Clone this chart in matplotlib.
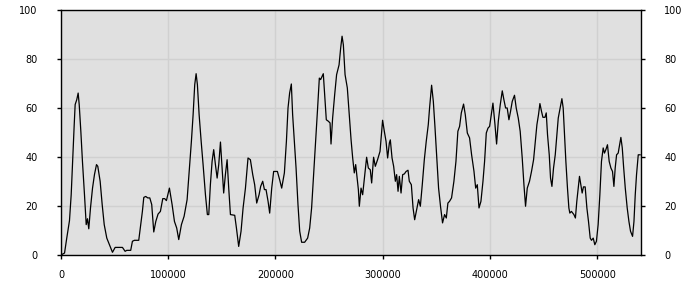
import matplotlib
matplotlib.use('Agg')
import matplotlib.pyplot as plt

# 读图得到的点 (x, 值)
xs = [0, 3300, 5400, 7900, 9500, 10700, 12300, 13200, 14700, 16000, 17000, 18500,
      20000, 21900, 23500, 24700, 25900, 27500, 29400, 31200, 33100, 34300, 36500,
      38400, 40300, 42700, 45800, 48000, 50500, 57300, 59800, 61300, 65000, 66600,
      68500, 72500, 74400, 75900, 77200, 79000, 80900, 82800, 84600, 86500, 88400,
      90500, 92700, 94900, 96700, 98300, 101100, 103600, 105800, 107900, 109800,
      112300, 114800, 117600, 119800, 121600, 123200, 124700, 126000, 127200, 128800,
      130700, 132500, 134700, 136500, 137800, 139300, 140900, 142400, 144000, 145600,
      147100, 148700, 150200, 151700, 153300, 154900, 156400, 158000, 162000, 163600,
      165700, 167900, 169800, 172000, 174400, 176600, 178800, 180600, 182500, 184700,
      186200, 188100, 189700, 191200, 193100, 194600, 196500, 198300, 201800, 203900,
      205800, 208300, 210200, 211700, 213200, 214800, 216000, 217600, 219200, 221000,
      222600, 224400, 227200, 230000, 231900, 233700, 235600, 237500, 239300, 240900,
      242100, 243400, 244600, 245900, 247400, 249300, 250900, 251800, 253300, 255200,
      257000, 259300, 260800, 262100, 263300, 264900, 267000, 268600, 270500, 272000,
      273500, 274800, 275700, 277300, 278200, 279800, 281300, 282900, 285000, 286600,
      288400, 289700, 291500, 293100, 295200, 297500, 299000, 299900, 301500, 303100,
      304600, 306200, 307100, 308700, 310200, 311800, 313000, 314300, 315500, 317100,
      318600, 320200, 321800, 323600, 324800, 326700, 328300, 329800, 331600, 333500,
      335100, 336900, 338800, 340600, 342500, 343700, 345600, 347200, 348700, 350600,
      352100, 353900, 355800, 357700, 359300, 360800, 362300, 364200, 366400, 368300,
      370100, 371700, 373300, 375400, 377000, 378900, 381000, 382900, 385100, 386700,
      388200, 389800, 391600, 393500, 395000, 396600, 398200, 399700, 401300, 402800,
      404700, 406200, 407800, 409600, 411500, 413000, 414600, 416100, 417700, 419200,
      420800, 422900, 424500, 426400, 428200, 430100, 431700, 433200, 434800, 436900,
      438800, 440700, 442200, 443800, 445300, 446600, 448100, 449400, 451300, 452500,
      453700, 455300, 456500, 457800, 459300, 460900, 462400, 463700, 465200, 467100,
      468300, 469500, 470800, 472300, 473600, 474500, 476000, 478300, 479700, 481000,
      482200, 483500, 484800, 486000, 487200, 488800, 490400, 491900, 493500, 494700,
      496300, 497800, 499300, 500900, 502500, 504000, 505600, 506800, 508100, 509600,
      511200, 512800, 514300, 515600, 516800, 518100, 519600, 521200, 522100, 523400,
      524600, 526200, 528000, 529600, 531100, 533000, 534300, 535500, 536700, 538300,
      540000]
vals = [0, 0.8, 7, 14, 24.6, 36.9, 53, 61.4, 63.4, 66.1, 61.3, 50.5,
        38.2, 24.6, 12.4, 14.8, 10.7, 19.2, 27.3, 32.8, 36.9, 36.2, 30.1,
        20.6, 12.4, 6.9, 3.5, 1.1, 3.1, 3.1, 1.5, 1.9, 1.9, 5.6,
        6.0, 6.0, 12.4, 17.8, 23.5, 23.9, 23.3, 23.3, 20.6, 9.4, 13.7,
        16.7, 17.8, 23, 23, 22.2, 27.3, 20.6, 13.7, 11, 6.3,
        12.4, 15.8, 22.6, 35.5, 46.4, 57.3, 69.5, 74, 69.5, 57.3,
        46.4, 36.9, 24.6, 16.5, 16.5, 28.7, 38.2, 43, 36.9, 31.4,
        36.9, 46.1, 35.5, 25.3, 32.8, 38.9, 27.3, 16.5, 16.2, 11,
        3.5, 9.7, 19.2, 27.3, 39.6, 38.9, 32.8, 28.7, 21.2, 24.6,
        28, 30.1, 26.7, 26.7, 21.9, 17.1, 27.3, 34.1, 34.1, 30.7,
        27.3, 33.5, 46.4, 60, 66.1, 69.8, 57.3, 46.4, 35.5, 20.5,
        9.7, 5.2, 5.2, 6.9, 11, 19.2, 32.8, 46.4, 60, 72.2,
        71.6, 72.9, 74, 65.4, 55.2, 54.6, 53.9, 45.3, 55.9, 65.4,
        73.6, 77.6, 84.5, 89.3, 85.8, 73.6, 68.2, 58.6, 47, 39.6,
        33.5, 36.9, 33.2, 26.7, 19.9, 27.3, 24.6, 31.4, 39.9, 35.5,
        34.8, 29.4, 39.9, 36.2, 38.9, 42.3, 50.5, 55, 50.5, 46.4,
        39.6, 45.7, 47, 39.6, 36.2, 30.1, 32.8, 26, 32.1, 25.3,
        32.8, 33.1, 34.1, 34.6, 30.1, 28.7, 19.2, 14.4, 18.5, 22.6,
        19.9, 28.7, 38.9, 46.4, 53.2, 60, 69.3, 62.7, 52.5, 38.2,
        27.3, 19.9, 13.1, 16.5, 15.1, 21.2, 21.9, 23.3, 30.1, 38.2,
        50.5, 52.5, 58, 61.6, 57.3, 49.8, 47.8, 40.9, 34.2, 27.3,
        28.7, 19.2, 21.9, 30.1, 38.2, 49.8, 51.8, 52.5, 57.3, 62,
        53.2, 45.3, 54.6, 61.3, 67, 63.4, 60, 60, 55.2, 58.6,
        62.7, 65.2, 60, 55.9, 50.5, 39.6, 28.7, 19.9, 27.3, 30.1,
        34.2, 38.9, 45.7, 53.2, 57.3, 61.8, 58.6, 56.2, 56.2, 58,
        49.1, 40.9, 31.4, 28, 35.5, 40.9, 49.1, 55.9, 59.3, 63.8,
        60, 49.1, 38.2, 27.3, 19.2, 17.1, 17.8, 16.5, 15.1, 21.9,
        26.7, 32.1, 28.7, 25.3, 27.8, 27.8, 19.2, 13.7, 6.9, 6,
        6.9, 4.2, 5.6, 12.4, 24.6, 38.2, 43.7, 41.6, 43, 45,
        38.2, 35.5, 34.1, 28, 35.5, 40.9, 41.6, 45.7, 48, 43.7,
        36.2, 27.3, 19.2, 13.7, 9.7, 7.6, 13.7, 24.6, 32.8, 40.9,
        40.9]

xticks = [0, 100000, 200000, 300000, 400000, 500000]
yticks = [0, 20, 40, 60, 80, 100]

fig = plt.figure(figsize=(7, 3), dpi=100)
ax = fig.add_axes([61 / 700, 45 / 300, 579.5 / 700, 245 / 300])
ax.set_facecolor('#e0e0e0')
ax.plot(xs, vals, color='black', lw=0.9)

ax.set_xlim(0, 540400)
ax.set_ylim(0, 100)
ax.set_xticks(xticks)
ax.set_xticklabels([str(t) for t in xticks])
ax.set_yticks(yticks)
ax.set_yticklabels([str(t) for t in yticks])

ax.grid(True, color='#d0d0d0', lw=1)
ax.set_axisbelow(True)
for s in ax.spines.values():
    s.set_color('black')
    s.set_linewidth(1)

ax.tick_params(axis='x', direction='out', length=3, width=1, labelsize=7, pad=8)
ax.tick_params(axis='y', direction='out', length=3, width=1, labelsize=7, pad=14,
               right=True, labelright=True)

fig.savefig('out.png', dpi=100)
